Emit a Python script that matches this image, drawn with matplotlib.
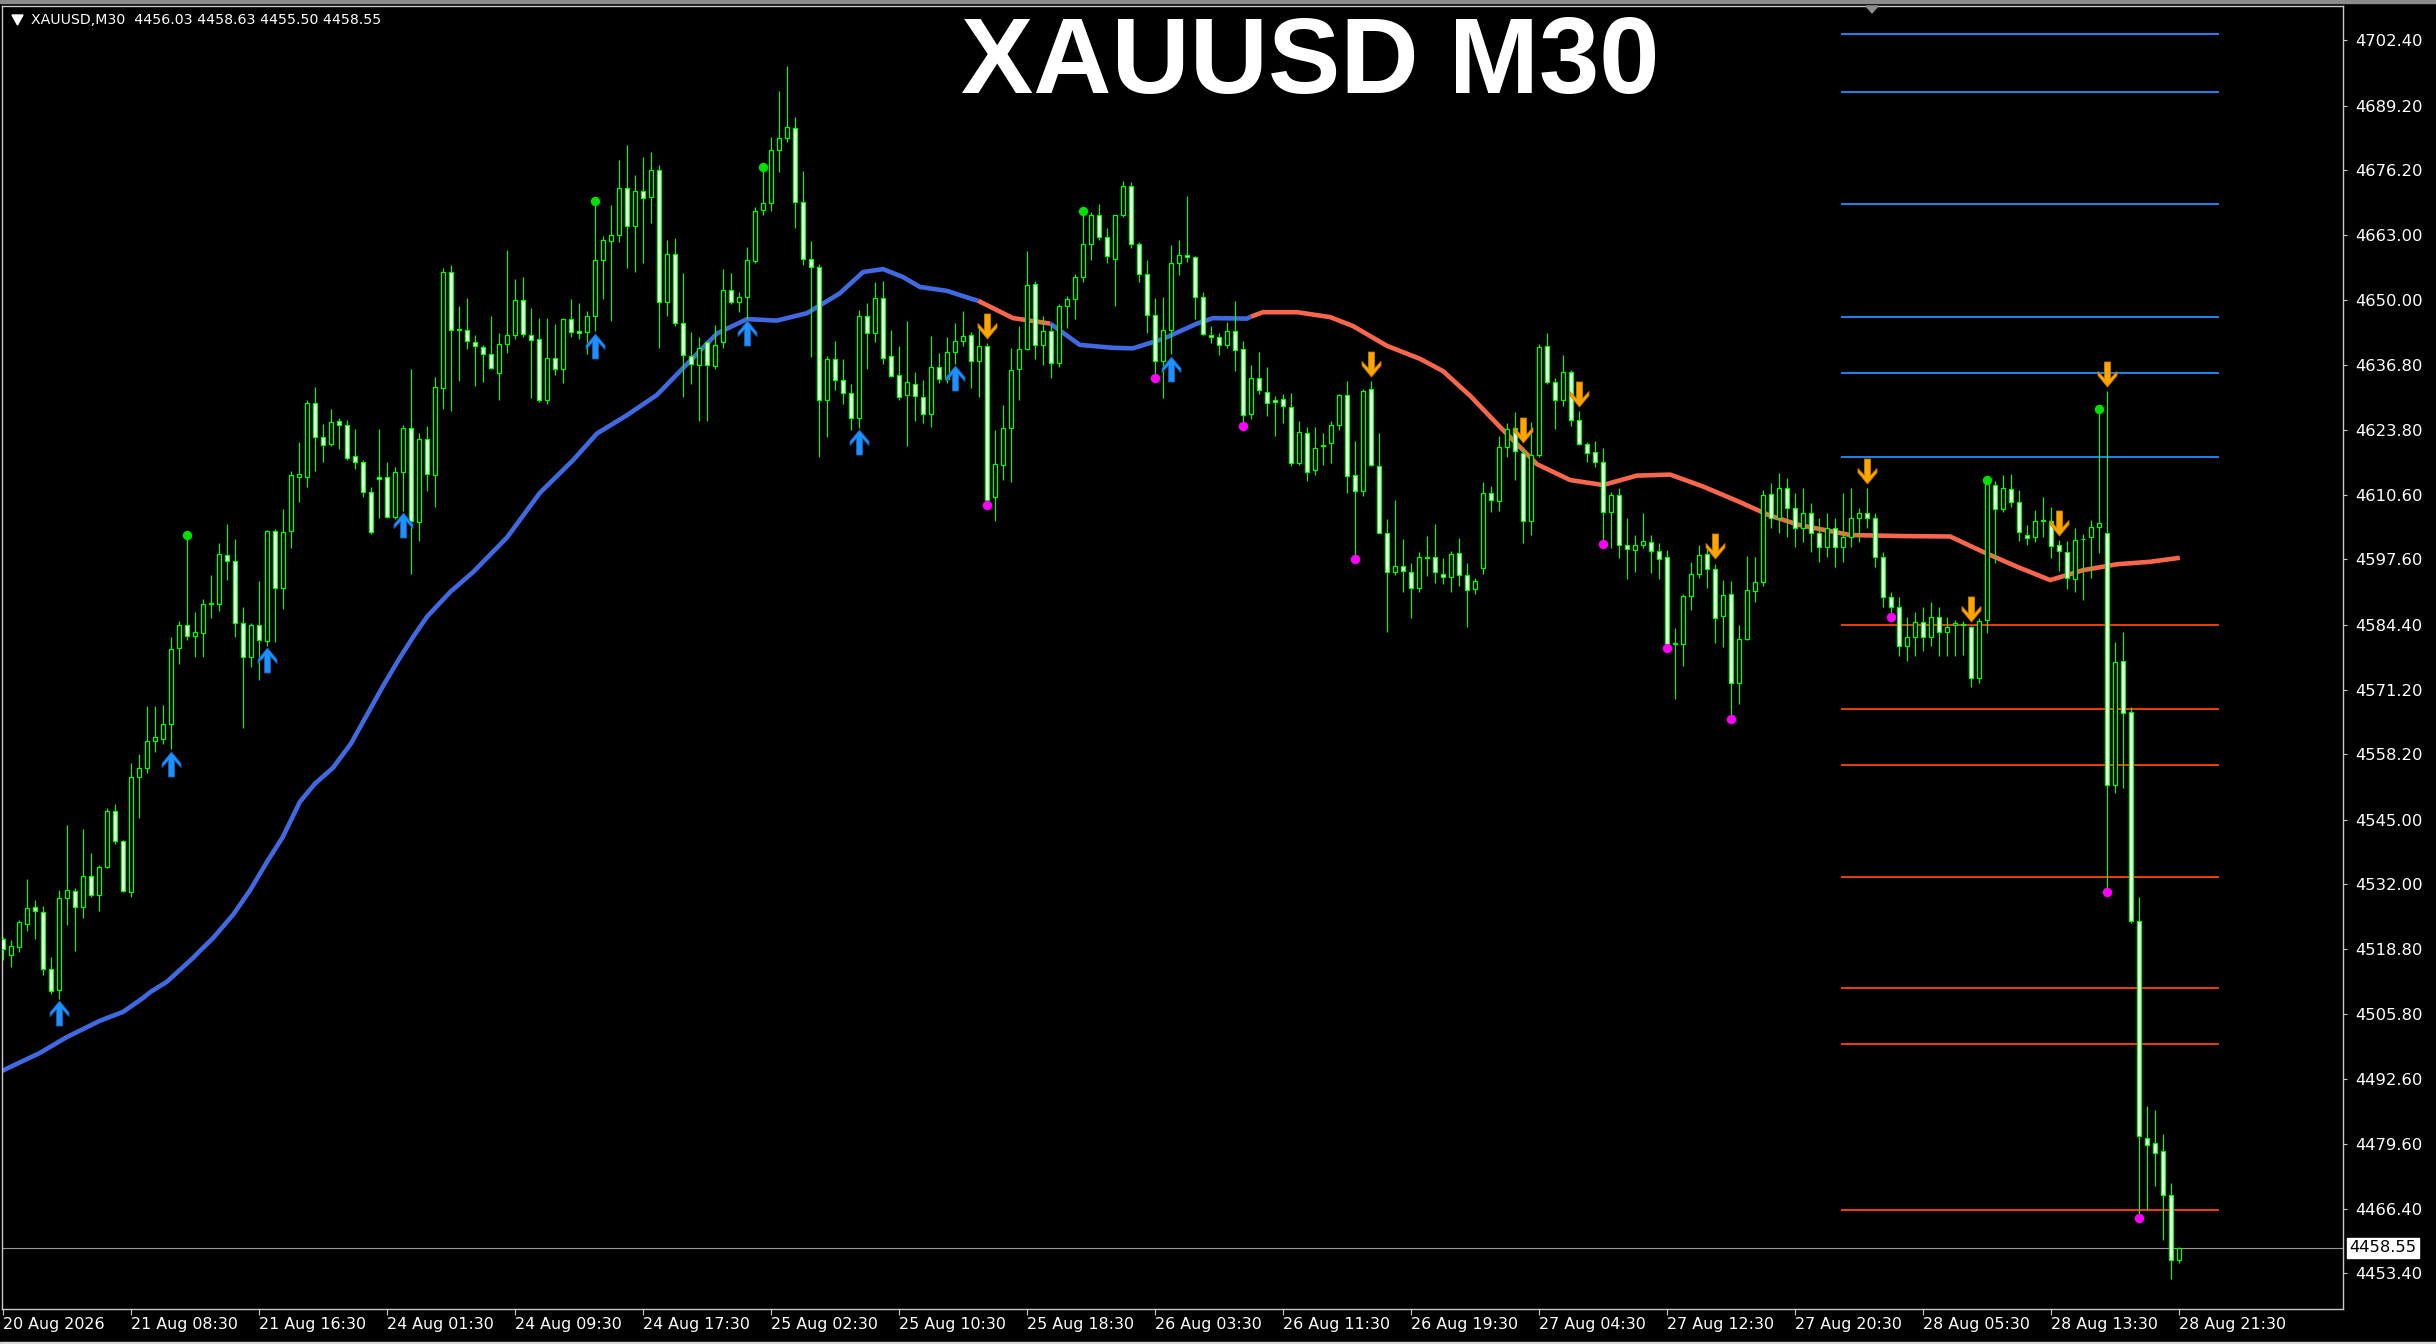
import matplotlib
matplotlib.use('Agg')
import matplotlib.pyplot as plt
from matplotlib.path import Path
from matplotlib.patches import Rectangle, Polygon
import numpy as np

W, H, DPI = 2436, 1344, 100

symbol_text = 'XAUUSD,M30  4456.03 4458.63 4455.50 4458.55'
title_text = 'XAUUSD M30'

opens = [
    4520.9, 4517.7, 4519.4, 4524.0, 4527.3, 4526.3, 4514.8, 4510.6, 4529.1, 4530.6,
    4527.3, 4533.7, 4529.8, 4535.5, 4546.8, 4540.7, 4530.4, 4553.6, 4555.5, 4561.0,
    4561.4, 4564.3, 4579.6, 4584.3, 4582.2, 4582.7, 4588.6, 4588.5, 4598.5, 4597.2,
    4584.8, 4577.9, 4584.3, 4581.0, 4603.3, 4591.8, 4603.3, 4614.2, 4614.2, 4629.1,
    4622.3, 4620.8, 4625.6, 4624.7, 4618.5, 4617.2, 4611.1, 4614.3, 4614.3, 4606.2,
    4615.3, 4624.2, 4605.1, 4621.8, 4614.7, 4632.2, 4655.7, 4644.2, 4644.0, 4641.5,
    4640.5, 4639.1, 4635.2, 4641.1, 4642.8, 4650.0, 4642.8, 4642.0, 4629.8, 4638.2,
    4636.0, 4646.1, 4643.7, 4643.4, 4646.7, 4658.0, 4661.9, 4663.1, 4672.5, 4664.9,
    4672.0, 4670.7, 4676.2, 4649.6, 4659.2, 4645.3, 4638.7, 4636.8, 4641.5, 4636.6,
    4641.5, 4652.0, 4649.5, 4650.5, 4657.9, 4668.1, 4669.6, 4680.3, 4682.6, 4684.6,
    4669.8, 4658.2, 4656.6, 4629.8, 4638.0, 4633.9, 4631.1, 4626.1, 4646.7, 4643.2,
    4650.3, 4638.6, 4634.8, 4630.7, 4633.0, 4630.3, 4626.9, 4636.5, 4634.0, 4639.4,
    4641.7, 4642.9, 4637.7, 4640.7, 4610.2, 4616.6, 4624.1, 4636.1, 4640.0, 4653.1,
    4640.8, 4643.6, 4637.3, 4648.7, 4650.2, 4654.7, 4661.2, 4667.2, 4662.6, 4658.2,
    4667.1, 4673.0, 4661.2, 4655.2, 4646.9, 4637.6, 4643.8, 4657.4, 4659.1, 4658.6,
    4650.6, 4642.9, 4642.5, 4640.9, 4643.6, 4640.0, 4627.0, 4634.2, 4631.4, 4629.7,
    4629.9, 4628.4, 4617.0, 4623.2, 4615.6, 4620.5, 4621.0, 4624.8, 4630.7, 4614.7,
    4611.4, 4631.9, 4616.5, 4603.0, 4595.0, 4596.2, 4595.1, 4591.8, 4598.0, 4598.0,
    4594.7, 4594.1, 4598.8, 4594.5, 4591.6, 4595.9, 4610.9, 4609.3, 4620.2, 4624.2,
    4619.0, 4605.3, 4618.7, 4640.6, 4633.3, 4629.7, 4635.5, 4625.7, 4620.8, 4619.2,
    4617.2, 4607.1, 4610.5, 4600.4, 4599.4, 4600.4, 4601.0, 4599.2, 4598.0, 4580.4,
    4580.4, 4590.2, 4594.6, 4598.6, 4595.6, 4586.1, 4590.5, 4572.7, 4581.5, 4591.1,
    4593.1, 4610.7, 4606.0, 4612.0, 4608.0, 4604.0, 4607.0, 4603.0, 4600.0, 4604.0,
    4600.0, 4602.0, 4606.0, 4607.0, 4606.0, 4598.0, 4590.0, 4588.0, 4580.0, 4582.0,
    4585.0, 4582.0, 4586.0, 4583.0, 4584.4, 4584.5, 4584.0, 4573.6, 4585.3, 4612.7,
    4607.7, 4611.7, 4609.1, 4602.6, 4602.0, 4605.5, 4605.4, 4600.4, 4599.1, 4593.6,
    4601.6, 4602.0, 4604.1, 4603.0, 4552.1, 4577.0, 4566.8, 4524.6, 4480.8, 4479.7,
    4478.2, 4469.2, 4456.03,
]
highs = [
    4521.3, 4520.7, 4524.8, 4533.1, 4528.7, 4527.5, 4517.2, 4530.8, 4544.0, 4531.2,
    4543.1, 4538.2, 4535.9, 4547.3, 4548.1, 4540.9, 4556.5, 4558.3, 4567.9, 4568.0,
    4568.2, 4581.9, 4585.2, 4602.5, 4587.0, 4589.5, 4594.4, 4600.8, 4604.7, 4601.7,
    4587.9, 4584.8, 4593.2, 4603.6, 4603.7, 4607.8, 4615.4, 4621.3, 4629.7, 4632.4,
    4624.9, 4627.9, 4626.1, 4625.7, 4623.9, 4617.6, 4612.2, 4623.9, 4617.3, 4616.3,
    4624.7, 4636.0, 4623.2, 4624.5, 4634.5, 4656.5, 4657.0, 4648.7, 4650.4, 4642.8,
    4640.9, 4646.8, 4643.2, 4660.1, 4654.2, 4654.7, 4648.4, 4646.3, 4646.3, 4645.1,
    4646.3, 4650.2, 4649.4, 4647.7, 4670.0, 4662.8, 4669.2, 4678.2, 4681.3, 4675.1,
    4678.8, 4679.8, 4677.3, 4662.0, 4662.4, 4655.4, 4643.4, 4642.4, 4641.7, 4645.0,
    4656.2, 4655.4, 4651.6, 4660.7, 4668.8, 4676.8, 4682.9, 4692.2, 4697.2, 4686.9,
    4676.0, 4661.9, 4657.2, 4638.7, 4641.7, 4638.0, 4632.9, 4648.0, 4649.4, 4653.5,
    4653.7, 4644.0, 4640.6, 4645.7, 4635.5, 4633.8, 4642.6, 4639.2, 4642.5, 4645.4,
    4647.7, 4643.4, 4644.6, 4641.3, 4623.7, 4628.7, 4640.2, 4644.8, 4659.9, 4653.7,
    4646.7, 4645.2, 4649.1, 4650.8, 4655.2, 4668.0, 4667.8, 4669.3, 4664.5, 4667.2,
    4674.0, 4673.8, 4661.6, 4658.1, 4650.4, 4650.6, 4661.0, 4662.0, 4670.9, 4658.9,
    4651.6, 4644.8, 4643.3, 4645.6, 4649.8, 4641.7, 4636.9, 4639.4, 4636.5, 4630.5,
    4630.9, 4631.1, 4625.6, 4624.3, 4624.3, 4623.2, 4625.5, 4630.9, 4633.6, 4621.4,
    4632.0, 4633.6, 4623.1, 4605.8, 4609.5, 4601.7, 4596.8, 4599.0, 4602.4, 4604.7,
    4597.9, 4599.2, 4601.9, 4596.9, 4593.8, 4613.3, 4612.3, 4622.4, 4625.2, 4627.3,
    4620.2, 4625.3, 4641.0, 4643.2, 4634.3, 4638.9, 4635.8, 4627.5, 4621.2, 4621.5,
    4620.1, 4611.1, 4612.0, 4606.0, 4602.6, 4607.0, 4602.6, 4600.8, 4599.5, 4583.7,
    4590.5, 4597.0, 4600.5, 4600.3, 4596.7, 4593.4, 4593.2, 4584.4, 4598.3, 4598.1,
    4611.6, 4613.0, 4615.0, 4614.0, 4611.0, 4612.0, 4609.0, 4606.0, 4607.0, 4606.0,
    4611.0, 4612.0, 4608.0, 4612.0, 4607.0, 4599.0, 4591.0, 4590.0, 4586.0, 4587.0,
    4588.0, 4589.0, 4588.0, 4586.0, 4585.3, 4585.2, 4584.1, 4585.7, 4613.6, 4613.4,
    4614.6, 4614.8, 4611.6, 4604.5, 4607.6, 4610.1, 4608.2, 4601.5, 4601.2, 4603.9,
    4602.8, 4605.5, 4628.0, 4631.5, 4580.9, 4583.0, 4567.8, 4529.4, 4487.2, 4486.4,
    4481.6, 4471.6, 4458.63,
]
lows = [
    4516.7, 4515.3, 4518.2, 4522.5, 4520.9, 4513.6, 4509.9, 4508.8, 4523.8, 4518.4,
    4525.2, 4529.5, 4526.6, 4535.3, 4540.2, 4530.4, 4529.5, 4545.4, 4554.5, 4558.6,
    4560.2, 4559.2, 4576.5, 4581.4, 4577.9, 4577.9, 4585.8, 4587.2, 4593.4, 4582.0,
    4563.6, 4575.9, 4573.2, 4580.1, 4580.9, 4587.5, 4599.8, 4609.2, 4612.2, 4615.5,
    4617.2, 4620.4, 4619.8, 4617.7, 4615.8, 4610.1, 4602.8, 4606.0, 4605.9, 4605.8,
    4607.4, 4594.7, 4601.2, 4611.4, 4608.2, 4627.9, 4627.5, 4633.7, 4640.1, 4632.6,
    4633.3, 4636.0, 4629.8, 4639.2, 4642.0, 4642.4, 4630.2, 4629.3, 4628.9, 4634.8,
    4633.1, 4642.4, 4642.0, 4639.1, 4643.6, 4650.2, 4645.7, 4661.7, 4656.4, 4655.7,
    4657.4, 4665.6, 4640.2, 4646.8, 4644.8, 4630.4, 4632.9, 4625.5, 4625.5, 4636.0,
    4640.3, 4649.1, 4647.5, 4646.1, 4657.5, 4667.1, 4667.9, 4675.8, 4681.9, 4664.5,
    4657.0, 4638.5, 4618.3, 4622.3, 4631.7, 4628.9, 4623.8, 4624.1, 4636.0, 4641.4,
    4637.0, 4634.4, 4629.7, 4620.5, 4625.5, 4625.1, 4624.3, 4633.2, 4633.2, 4637.1,
    4640.6, 4632.1, 4630.3, 4609.2, 4605.4, 4613.7, 4613.3, 4629.7, 4639.8, 4638.0,
    4636.9, 4634.2, 4636.5, 4644.3, 4646.1, 4653.5, 4658.1, 4662.0, 4657.4, 4648.8,
    4666.8, 4660.4, 4653.5, 4643.3, 4634.9, 4630.1, 4639.0, 4655.1, 4657.7, 4646.1,
    4642.9, 4641.3, 4638.9, 4640.3, 4635.7, 4625.1, 4625.9, 4631.0, 4626.6, 4622.4,
    4625.1, 4616.4, 4616.6, 4613.5, 4614.7, 4616.6, 4617.1, 4623.7, 4610.9, 4598.2,
    4610.4, 4616.5, 4603.0, 4583.0, 4594.5, 4590.9, 4585.8, 4590.9, 4594.3, 4592.8,
    4592.7, 4591.0, 4592.3, 4584.0, 4590.5, 4594.7, 4607.1, 4607.3, 4618.3, 4613.6,
    4600.8, 4602.6, 4618.2, 4632.9, 4623.9, 4628.6, 4624.6, 4620.7, 4617.2, 4616.3,
    4601.2, 4599.9, 4597.9, 4593.6, 4595.0, 4599.8, 4594.9, 4593.6, 4580.2, 4569.3,
    4576.1, 4587.3, 4593.8, 4591.8, 4580.6, 4579.9, 4566.0, 4568.4, 4581.4, 4588.9,
    4592.3, 4604.0, 4603.0, 4602.0, 4600.0, 4601.0, 4599.0, 4597.0, 4598.0, 4596.0,
    4597.0, 4600.0, 4601.0, 4604.0, 4596.0, 4588.0, 4586.5, 4578.0, 4577.0, 4578.0,
    4579.0, 4580.0, 4578.0, 4578.0, 4578.1, 4578.3, 4571.8, 4572.6, 4582.8, 4596.8,
    4607.2, 4608.1, 4601.2, 4600.5, 4601.0, 4602.0, 4597.8, 4595.3, 4591.5, 4590.9,
    4589.4, 4593.8, 4598.9, 4531.0, 4550.5, 4551.5, 4524.1, 4465.2, 4466.1, 4471.0,
    4460.1, 4452.3, 4455.50,
]
closes = [
    4519.0, 4519.6, 4524.3, 4527.1, 4526.5, 4514.8, 4510.4, 4529.3, 4530.8, 4527.3,
    4533.7, 4529.8, 4535.5, 4546.8, 4540.7, 4530.6, 4553.6, 4555.5, 4561.0, 4561.8,
    4564.3, 4579.4, 4584.3, 4582.2, 4582.9, 4588.6, 4588.8, 4598.6, 4597.2, 4584.8,
    4577.9, 4584.3, 4581.2, 4603.3, 4591.8, 4603.1, 4614.6, 4614.8, 4629.1, 4622.3,
    4620.6, 4625.3, 4624.7, 4618.1, 4617.2, 4611.1, 4603.1, 4613.9, 4606.2, 4615.3,
    4624.2, 4605.4, 4621.8, 4614.8, 4632.4, 4655.6, 4643.9, 4643.9, 4641.7, 4640.7,
    4639.1, 4636.2, 4641.0, 4642.8, 4650.0, 4643.0, 4641.8, 4629.8, 4638.2, 4636.0,
    4646.1, 4643.4, 4643.3, 4646.7, 4658.1, 4662.0, 4663.0, 4672.5, 4664.9, 4671.9,
    4670.6, 4676.2, 4649.6, 4659.2, 4645.3, 4638.9, 4637.0, 4640.3, 4636.8, 4640.9,
    4651.9, 4649.5, 4650.6, 4658.0, 4667.9, 4669.6, 4680.3, 4682.6, 4684.8, 4669.8,
    4658.3, 4656.6, 4629.8, 4638.0, 4633.9, 4631.2, 4626.1, 4646.7, 4643.2, 4650.3,
    4638.3, 4634.6, 4630.3, 4633.4, 4630.5, 4626.9, 4636.5, 4634.0, 4639.5, 4641.7,
    4642.6, 4637.6, 4640.7, 4609.6, 4616.8, 4624.1, 4635.8, 4640.0, 4652.9, 4640.8,
    4643.6, 4637.3, 4648.7, 4650.1, 4654.7, 4661.2, 4667.2, 4662.6, 4658.9, 4667.1,
    4673.0, 4661.2, 4655.2, 4646.9, 4637.6, 4643.8, 4657.4, 4659.1, 4658.6, 4650.6,
    4643.0, 4642.5, 4640.8, 4643.6, 4639.8, 4626.8, 4634.2, 4631.7, 4629.1, 4629.3,
    4628.6, 4617.0, 4623.3, 4615.2, 4620.1, 4620.6, 4624.8, 4630.7, 4614.5, 4611.3,
    4631.6, 4616.7, 4603.0, 4595.0, 4596.2, 4595.2, 4591.8, 4598.0, 4597.8, 4595.0,
    4594.0, 4598.6, 4594.5, 4591.4, 4593.2, 4610.9, 4609.5, 4620.2, 4623.9, 4619.4,
    4605.3, 4618.7, 4640.4, 4633.3, 4629.7, 4635.5, 4625.7, 4620.8, 4619.0, 4617.2,
    4607.1, 4610.5, 4600.4, 4599.7, 4600.4, 4601.2, 4599.2, 4597.7, 4580.4, 4580.6,
    4590.2, 4594.6, 4598.5, 4595.6, 4585.8, 4590.4, 4572.6, 4581.5, 4591.3, 4593.1,
    4610.5, 4606.0, 4612.0, 4608.0, 4604.0, 4607.0, 4603.0, 4600.0, 4604.0, 4600.0,
    4602.0, 4606.0, 4607.0, 4606.0, 4598.0, 4590.0, 4588.0, 4580.0, 4582.0, 4585.0,
    4582.0, 4586.0, 4583.0, 4584.0, 4584.8, 4584.3, 4573.6, 4585.1, 4612.9, 4607.7,
    4611.9, 4609.1, 4603.1, 4601.8, 4605.3, 4605.4, 4600.3, 4599.3, 4593.8, 4601.4,
    4601.7, 4604.1, 4604.9, 4552.1, 4576.8, 4566.6, 4524.6, 4481.1, 4479.4, 4477.7,
    4469.3, 4456.0, 4458.55,
]

# moving average (bar position, price)
ma_bar = [-0.37, 4.6, 7.96, 12.1, 15.0, 17.5, 18.4, 20.5, 23.75, 24.6, 26.25, 28.75,
          30.9, 33.0, 35.0, 37.1, 39.0, 41.25, 43.5, 45.5, 47.5, 49.6, 51.3, 53.0, 55.9,
          58.75, 63.0, 67.1, 71.25, 74.25, 78.0, 81.75, 85.0, 89.25, 93.0, 96.75, 100.5,
          104.6, 107.5, 110.0, 112.5, 114.6, 118.0, 121.25, 121.9, 126.25, 130.9, 134.6,
          138.75, 141.25, 145.0, 149.25, 151.25, 155.5, 156.0, 157.5, 161.75, 165.9, 168.75,
          173.0, 177.1, 180.0, 183.4, 187.5, 191.75, 195.9, 200.0, 204.25, 208.4, 212.5,
          216.75, 220.9, 224.6, 230.9, 237.1, 243.4, 247.5, 251.75, 255.9, 260.0, 264.25,
          268.4, 272.1]
ma_val = [4494.1, 4497.9, 4501.1, 4504.4, 4506.2, 4509.0, 4510.2, 4512.3, 4517.1, 4518.5,
          4521.1, 4525.8, 4530.8, 4536.5, 4541.6, 4548.6, 4552.3, 4555.5, 4560.4, 4566.2,
          4572.0, 4577.7, 4582.0, 4586.0, 4591.0, 4595.0, 4602.0, 4611.0, 4617.6, 4623.0,
          4626.7, 4630.8, 4636.2, 4643.2, 4646.1, 4645.8, 4647.3, 4651.3, 4655.6, 4656.2,
          4654.6, 4652.6, 4651.8, 4650.1, 4649.8, 4646.3, 4645.2, 4640.9, 4640.3, 4640.2,
          4642.1, 4645.2, 4646.3, 4646.2, 4646.6, 4647.5, 4647.5, 4646.5, 4644.7, 4640.7,
          4638.1, 4635.6, 4630.6, 4623.7, 4616.8, 4613.6, 4612.6, 4614.5, 4614.7, 4612.3,
          4609.4, 4606.4, 4604.5, 4602.5, 4602.3, 4602.2, 4599.1, 4596.1, 4593.4, 4595.4,
          4596.6, 4597.1, 4597.9]
ma_switch = [-1, 121.9, 130.9, 156.0, 273]
ma_colors = ['#4169E1', '#F8674D', '#4169E1', '#F8674D']

up_arrows = [7, 21, 33, 50, 74, 93, 107, 119, 146]
down_arrows = [123, 171, 190, 197, 214, 233, 246, 257, 263]
high_dots = [23, 74, 95, 135, 248, 262]
low_dots = [123, 144, 155, 169, 200, 208, 216, 236, 263, 267]

res_levels = [4703.6, 4692.0, 4669.4, 4646.5, 4635.2, 4618.2]
sup_levels = [4584.3, 4567.4, 4556.1, 4533.5, 4511.0, 4499.8, 4466.2]
level_from, level_to = 229.75, 277.0
last_price = 4458.55

price_ticks = [4702.40, 4689.20, 4676.20, 4663.00, 4650.00, 4636.80, 4623.80, 4610.60,
               4597.60, 4584.40, 4571.20, 4558.20, 4545.00, 4532.00, 4518.80, 4505.80,
               4492.60, 4479.60, 4466.40, 4453.40]
time_labels = ['20 Aug 2026', '21 Aug 08:30', '21 Aug 16:30', '24 Aug 01:30', '24 Aug 09:30',
               '24 Aug 17:30', '25 Aug 02:30', '25 Aug 10:30', '25 Aug 18:30', '26 Aug 03:30',
               '26 Aug 11:30', '26 Aug 19:30', '27 Aug 04:30', '27 Aug 12:30', '27 Aug 20:30',
               '28 Aug 05:30', '28 Aug 13:30', '28 Aug 21:30']
time_step = 16

GREEN = '#00FF00'
FONT = 'DejaVu Sans'


def arrow_path(up=True):
    v = [(0, 0.5), (0.38, 0.04), (0.38, -0.12), (0.12, 0.16), (0.12, -0.5),
         (-0.12, -0.5), (-0.12, 0.16), (-0.38, -0.12), (-0.38, 0.04), (0, 0.5)]
    if not up:
        v = [(x, -y) for x, y in v]
    return Path(v, closed=True)


o = np.array(opens)
hi = np.array(highs)
lo = np.array(lows)
c = np.array(closes)
n = len(o)
x = np.arange(n)

fig = plt.figure(figsize=(W / DPI, H / DPI), dpi=DPI, facecolor='black')
ax_l, ax_r, ax_t, ax_b = 2, 2343, 6, 1309
ax = fig.add_axes([ax_l / W, 1 - ax_b / H, (ax_r - ax_l) / W, (ax_b - ax_t) / H], facecolor='black')

ymax = 4710.54 - ax_t / 4.952
ymin = 4710.54 - ax_b / 4.952
ax.set_ylim(ymin, ymax)
ax.set_xlim(-0.125, (ax_r - 3) / 8.0)

# current price line
ax.axhline(last_price, color='#9A9A9A', lw=0.8, zorder=1)

# levels
ax.hlines(res_levels, level_from, level_to, color='#1E90FF', lw=1.3, zorder=1.5)
ax.hlines(sup_levels, level_from, level_to, color='#FF4500', lw=1.3, zorder=1.5)

# moving average, coloured by trend
mb = np.array(ma_bar)
mv = np.array(ma_val)
for k in range(len(ma_colors)):
    s, e = ma_switch[k], ma_switch[k + 1]
    m = (mb >= s - 0.01) & (mb <= e + 0.01)
    ax.plot(mb[m], mv[m], color=ma_colors[k], lw=3.3, solid_capstyle='butt',
            solid_joinstyle='round', zorder=2)

# candles
bull = c >= o
ax.vlines(x, lo, hi, color=GREEN, lw=0.8, zorder=3)
body_lo = np.minimum(o, c)
body_h = np.maximum(np.abs(c - o), 0.12)
fills = np.where(bull, 'black', 'white')
ax.bar(x, body_h, bottom=body_lo, width=0.56, color=fills, edgecolor=GREEN,
       linewidth=0.9, zorder=4)

# signals
ua = np.array(up_arrows)
da = np.array(down_arrows)
ax.plot(ua, lo[ua] - 2.9, linestyle='none', marker=arrow_path(True), markersize=18,
        color='#1E90FF', markeredgecolor='#1A5FB4', markeredgewidth=0.6, zorder=5)
ax.plot(da, hi[da] + 3.5, linestyle='none', marker=arrow_path(False), markersize=18,
        color='#FFA500', markeredgecolor='#C87800', markeredgewidth=0.6, zorder=5)
hd = np.array(high_dots)
ld = np.array(low_dots)
ax.plot(hd, hi[hd], linestyle='none', marker='o', markersize=6.8, color='#00E000',
        markeredgewidth=0, zorder=5)
ax.plot(ld, lo[ld] - 0.6, linestyle='none', marker='o', markersize=6.8, color='#FF00FF',
        markeredgewidth=0, zorder=5)

# axes style
for sp in ax.spines.values():
    sp.set_color('#C8C8C8')
    sp.set_linewidth(1.0)
ax.yaxis.tick_right()
ax.set_yticks(price_ticks)
ax.set_yticklabels(['%.2f' % v for v in price_ticks], fontfamily=FONT)
ax.tick_params(axis='y', colors='#C8C8C8', length=3, width=0.8, pad=6,
               labelcolor='white', labelsize=11.8)

ax.set_xticks(np.arange(len(time_labels)) * time_step)
ax.set_xticklabels(time_labels, ha='left', fontfamily=FONT, fontsize=11.4, color='white')
ax.tick_params(axis='x', colors='#C8C8C8', length=4, width=0.8, pad=2, labelcolor='white')

# price box on the right scale
ax.annotate('%.2f' % last_price, xy=(1, last_price), xycoords=('axes fraction', 'data'),
            xytext=(6, 0), textcoords='offset pixels', va='center', ha='left',
            fontsize=11.8, fontfamily=FONT, color='black',
            bbox=dict(boxstyle='square,pad=0.15', fc='white', ec='white'),
            annotation_clip=False)

# header texts
fig.text(31 / W, 1 - 20 / H, symbol_text, color='white', fontsize=10.2,
         fontfamily=FONT, va='center', ha='left')
fig.patches.append(Polygon([[12 / W, 1 - 15 / H], [23 / W, 1 - 15 / H], [17.5 / W, 1 - 25 / H]],
                           closed=True, transform=fig.transFigure, color='white'))
fig.text(1310 / W, 1 - 54 / H, title_text, color='white', fontsize=78, fontweight='bold',
         fontfamily=['Liberation Sans', 'DejaVu Sans'], va='center_baseline', ha='center')

# window chrome
fig.patches.append(Rectangle((0, 1 - 3 / H), 1, 3 / H, transform=fig.transFigure,
                             color='#8C8C8C'))
fig.patches.append(Rectangle((0, 0), 1, 2 / H, transform=fig.transFigure, color='#D8D8D8'))
fig.patches.append(Polygon([[1866 / W, 1 - 6 / H], [1878 / W, 1 - 6 / H], [1872 / W, 1 - 13 / H]],
                           closed=True, transform=fig.transFigure, color='#8C8C8C'))

fig.savefig('out.png', dpi=DPI, facecolor='black')
